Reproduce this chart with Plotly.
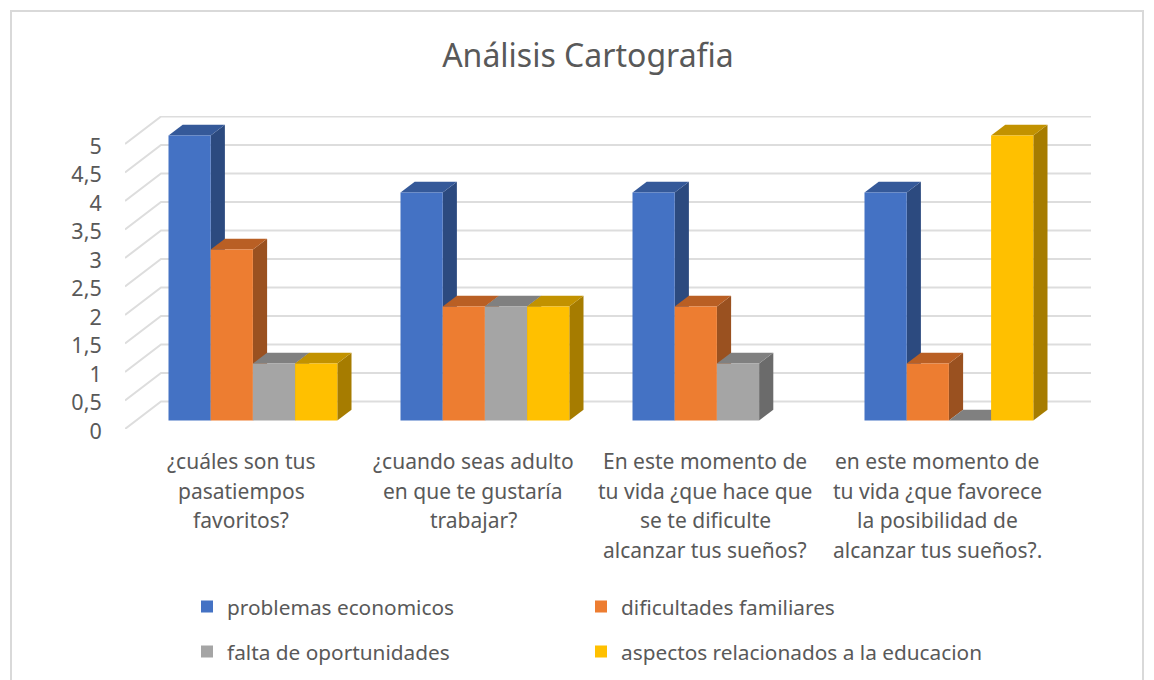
import plotly.graph_objects as go

# Page pixels are used for layout anchors; the browser's default 8px body margin is removed from the figure box.
PAGE_OFF = 8
W, H = 1154 - PAGE_OFF, 680 - PAGE_OFF
L, R, T, B = 125, 1091, 116, 429   # plot area in page pixels
FONT = "Noto Sans"
TXT = "#595959"

title = "Análisis Cartografia"
category_lines = [
    ["¿cuáles son tus", "pasatiempos", "favoritos?"],
    ["¿cuando seas adulto", "en que te gustaría", "trabajar?"],
    ["En este momento de", "tu vida ¿que hace que", "se te dificulte", "alcanzar tus sueños?"],
    ["en este momento de", "tu vida ¿que favorece", "la posibilidad de", "alcanzar tus sueños?."],
]
series_names = ["problemas economicos", "dificultades familiares",
                "falta de oportunidades", "aspectos relacionados a la educacion"]
problemas = [5, 4, 4, 4]
dificultades = [3, 2, 2, 1]
falta = [1, 2, 1, 0]
aspectos = [1, 2, None, 5]
series_values = [problemas, dificultades, falta, aspectos]
y_ticks = [0, 0.5, 1, 1.5, 2, 2.5, 3, 3.5, 4, 4.5, 5]
y_labels = ["0", "0,5", "1", "1,5", "2", "2,5", "3", "3,5", "4", "4,5", "5"]

front = ["#4472C4", "#ED7D31", "#A5A5A5", "#FFC000"]
side = ["#2C4A7F", "#9A5120", "#6B6B6B", "#A67C00"]
top = ["#355999", "#B95F24", "#808080", "#C29200"]

PX_X = 232.0        # pixels per category
PX_Y = 57.0         # pixels per value unit
x_lo = -116 / PX_X
x_hi = x_lo + (R - L) / PX_X
y_hi = (B - T) / PX_Y

wall_dx, wall_dy = 36 / PX_X, 27.5 / PX_Y
bar_w = 42.2 / PX_X
bar_left = (168.5 - (L + 116)) / PX_X
bar_dz = 8.5 / PX_Y
bar_dx, bar_dy = 14.2 / PX_X, 10.7 / PX_Y

legend_px = [(187, 607), (581, 607), (187, 652), (581, 652)]

fig = go.Figure()
shapes = []


def poly(pts, color):
    path = "M" + " L".join(f"{a:.5f},{b:.5f}" for a, b in pts) + " Z"
    return dict(type="path", path=path, xref="x", yref="y", layer="below",
                fillcolor=color, line=dict(width=0))


# wall gridlines
for v in y_ticks:
    shapes.append(dict(type="path", xref="x", yref="y", layer="below",
                       path=f"M{x_lo},{v} L{x_lo + wall_dx},{v + wall_dy} L{x_hi},{v + wall_dy}",
                       line=dict(color="#DDDDDD", width=2)))

# bars, with the depth faces computed from the same values
for s, vals in enumerate(series_values):
    xs = [c + bar_left + s * bar_w + bar_w / 2 for c in range(len(vals))]
    fig.add_trace(go.Bar(x=xs, y=vals, base=bar_dz, width=bar_w, name=series_names[s],
                         marker=dict(color=front[s], line=dict(width=0)),
                         legend="legend" if s == 0 else f"legend{s + 1}"))

for c in range(len(problemas)):
    for s, vals in enumerate(series_values):
        v = vals[c]
        if v is None:
            continue
        x0 = c + bar_left + s * bar_w
        x1 = x0 + bar_w
        y0, y1 = bar_dz, bar_dz + v
        shapes.append(poly([(x1, y0), (x1 + bar_dx, y0 + bar_dy), (x1 + bar_dx, y1 + bar_dy), (x1, y1)], side[s]))
        shapes.append(poly([(x0, y1), (x0 + bar_dx, y1 + bar_dy), (x1 + bar_dx, y1 + bar_dy), (x1, y1)], top[s]))

# outer chart frame
shapes.append(dict(type="path", xref="paper", yref="paper", layer="below",
                   path=f"M{(11 - L) / (R - L)},{(B - 690) / (B - T)} L{(11 - L) / (R - L)},{(B - 11) / (B - T)} "
                        f"L{(1143 - L) / (R - L)},{(B - 11) / (B - T)} L{(1143 - L) / (R - L)},{(B - 690) / (B - T)}",
                   line=dict(color="#D9D9D9", width=2)))

annotations = []
line_px = [460.5, 490.5, 520, 549.5]
for c, lines in enumerate(category_lines):
    for i, text in enumerate(lines):
        annotations.append(dict(x=c, xref="x", y=(B - line_px[i]) / (B - T), yref="paper",
                                text=text, showarrow=False, xanchor="center", yanchor="middle",
                                font=dict(family=FONT, size=21, color=TXT)))

layout_legends = {}
for s, (px, py) in enumerate(legend_px):
    key = "legend" if s == 0 else f"legend{s + 1}"
    layout_legends[key] = dict(x=(px - L) / (R - L), y=(B - py) / (B - T), xanchor="left", yanchor="middle",
                               bgcolor="rgba(0,0,0,0)", borderwidth=0,
                               font=dict(family=FONT, size=20.8, color=TXT))

fig.update_layout(
    width=W, height=H,
    margin=dict(l=L - PAGE_OFF, r=1154 - R, t=T - PAGE_OFF, b=680 - B, autoexpand=False),
    paper_bgcolor="white", plot_bgcolor="white", barmode="overlay", showlegend=True,
    title=dict(text=title, x=(588 - PAGE_OFF) / W, xanchor="center", y=1 - (56 - PAGE_OFF) / H, yanchor="middle",
               font=dict(family=FONT, size=32, color=TXT)),
    xaxis=dict(range=[x_lo, x_hi], showgrid=False, zeroline=False, showline=False,
               showticklabels=False, ticks=""),
    yaxis=dict(range=[0, y_hi], showgrid=False, zeroline=False, showline=False,
               tickmode="array", tickvals=y_ticks, ticktext=y_labels, ticks="outside",
               ticklen=18, tickcolor="rgba(0,0,0,0)", ticklabelshift=2,
               tickfont=dict(family=FONT, size=21.5, color=TXT)),
    shapes=shapes, annotations=annotations, **layout_legends,
)
fig.write_html("out.html")
